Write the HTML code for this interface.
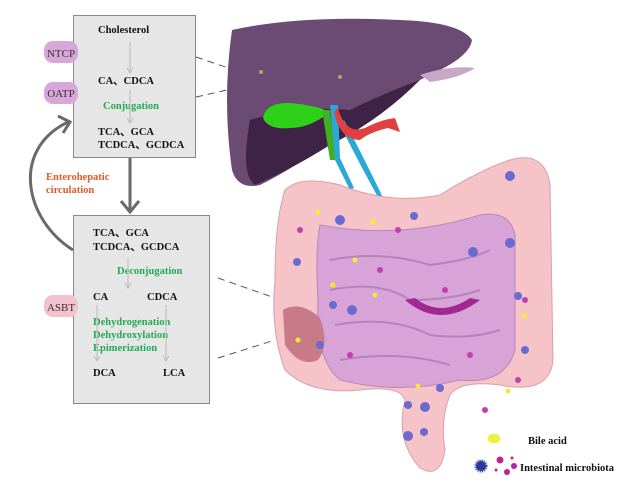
<!DOCTYPE html>
<html><head><style>
body{margin:0;background:#fff;width:621px;height:491px;overflow:hidden;font-family:"Liberation Serif",serif;}
</style></head><body>
<svg width="621" height="491" viewBox="0 0 621 491" xmlns="http://www.w3.org/2000/svg" font-family="Liberation Serif, serif" font-weight="bold">
<!-- boxes -->
<rect x="73.5" y="15.5" width="122" height="142" fill="#e6e6e6" stroke="#888"/>
<rect x="73.5" y="215.5" width="136" height="188" fill="#e6e6e6" stroke="#888"/>
<!-- pills -->
<rect x="44" y="41" width="34" height="22" rx="9" fill="#d9a6d9"/>
<text x="61" y="57" font-size="11" font-weight="normal" fill="#333" text-anchor="middle">NTCP</text>
<rect x="44" y="82" width="34" height="22" rx="9" fill="#d9a6d9"/>
<text x="61" y="97" font-size="11" font-weight="normal" fill="#333" text-anchor="middle">OATP</text>
<rect x="44" y="295" width="34" height="22" rx="9" fill="#f3c2cf"/>
<text x="61" y="311" font-size="11" font-weight="normal" fill="#333" text-anchor="middle">ASBT</text>
<!-- box1 text -->
<g font-size="10.5" fill="#111">
<text x="98" y="33">Cholesterol</text>
<text x="98" y="84">CA、CDCA</text>
<text x="98" y="135">TCA、GCA</text>
<text x="98" y="148">TCDCA、GCDCA</text>
<text x="93" y="236">TCA、GCA</text>
<text x="93" y="250">TCDCA、GCDCA</text>
<text x="93" y="300">CA</text>
<text x="147" y="300">CDCA</text>
<text x="93" y="376">DCA</text>
<text x="163" y="376">LCA</text>
</g>
<g font-size="10.5" fill="#22aa55">
<text x="103" y="109">Conjugation</text>
<text x="117" y="274">Deconjugation</text>
<text x="93" y="325">Dehydrogenation</text>
<text x="93" y="338">Dehydroxylation</text>
<text x="93" y="351">Epimerization</text>
</g>
<g font-size="10.5" fill="#e05a2a">
<text x="46" y="180">Enterohepatic</text>
<text x="46" y="193">circulation</text>
</g>
<!-- thin arrows -->
<g stroke="#bbb" stroke-width="1" fill="none">
<line x1="130" y1="42" x2="130" y2="72"/><path d="M127 68 L130 73 L133 68"/>
<line x1="130" y1="90" x2="130" y2="122"/><path d="M127 118 L130 123 L133 118"/>
<line x1="128" y1="258" x2="128" y2="287"/><path d="M125 283 L128 288 L131 283"/>
<line x1="97" y1="305" x2="97" y2="360"/><path d="M94 356 L97 361 L100 356"/>
<line x1="166" y1="305" x2="166" y2="360"/><path d="M163 356 L166 361 L169 356"/>
</g>
<!-- thick arrows -->
<g stroke="#6a6a6a" stroke-width="3" fill="none">
<line x1="130" y1="158" x2="130" y2="210"/><path d="M121 201 L130 212 L139 201"/>
<path d="M73 250 C25 220 10 150 68 122"/><path d="M58 116 L70 122 L63 133"/>
</g>
<!-- dashed lines -->
<g stroke="#555" stroke-dasharray="7,5" fill="none">
<line x1="196" y1="57" x2="258" y2="78"/>
<line x1="196" y1="97" x2="258" y2="83"/>
<line x1="218" y1="278" x2="275" y2="298"/>
<line x1="218" y1="358" x2="275" y2="340"/>
</g>
<!-- liver -->
<path d="M232 30 Q300 15 400 20 Q460 22 472 40 Q470 55 440 70 L420 80 Q380 110 330 140 Q300 165 260 185 Q238 190 232 170 Q222 100 232 30Z" fill="#6b4a73"/>
<path d="M250 120 Q300 105 350 110 Q380 95 420 80 Q380 120 330 145 Q290 170 255 185 Q240 175 250 120Z" fill="#3f2346"/>
<path d="M420 75 Q450 65 475 68 Q460 78 430 82Z" fill="#c9a7c9"/>
<circle cx="261" cy="72" r="2" fill="#b8a060"/><circle cx="340" cy="77" r="2" fill="#b8a060"/>
<!-- gallbladder -->
<path d="M263 118 Q266 102 290 103 Q315 105 330 112 Q310 128 290 128 Q268 130 263 118Z" fill="#2ed01a"/>
<path d="M322 110 L330 160 L336 160 L330 110Z" fill="#40b020"/>
<path d="M330 105 L335 160 L350 190 L354 188 L340 158 L338 105Z" fill="#2aa8d8"/>
<path d="M340 125 Q360 165 385 210 L388 208 Q365 160 344 120Z" fill="#2aa8d8"/>
<path d="M338 108 Q345 135 365 128 Q380 120 395 118 L400 132 L388 128 Q370 132 360 140 Q340 140 334 112Z" fill="#e04040"/>
<!-- intestine colon -->
<path d="M285 190 Q300 175 340 185 Q390 205 440 195 Q480 170 510 160 Q545 150 550 185 L553 360 Q550 395 500 385 Q460 380 450 395 Q440 420 445 450 Q440 480 420 468 Q395 440 405 400 Q400 385 360 390 Q310 395 285 370 Q270 330 275 280 Q275 220 285 190Z" fill="#f6c4c8" stroke="#d8a0a8"/>
<path d="M320 225 Q400 240 480 215 Q510 210 515 235 L515 350 Q505 385 460 380 Q400 395 340 380 Q315 360 318 300 Q315 250 320 225Z" fill="#d8a4d8" stroke="#b888b8"/>
<g fill="none" stroke="#b483b8" stroke-width="2">
<path d="M330 260 Q380 250 430 265 Q470 260 490 250"/>
<path d="M330 290 Q380 280 410 300 Q450 300 480 290"/>
<path d="M335 325 Q390 315 430 335 Q470 340 500 330"/>
<path d="M340 360 Q400 350 450 365"/>
</g>
<path d="M405 300 Q440 330 480 300 L470 298 Q440 318 415 298Z" fill="#a02890"/>
<path d="M283 310 Q300 300 320 318 Q330 345 318 360 Q300 368 285 345Z" fill="#c97a88"/>
<g fill="#c040b0">
<circle cx="300" cy="230" r="3"/><circle cx="380" cy="270" r="3"/><circle cx="445" cy="290" r="3"/><circle cx="470" cy="355" r="3"/><circle cx="485" cy="410" r="3"/><circle cx="518" cy="380" r="3"/><circle cx="350" cy="355" r="3"/><circle cx="398" cy="230" r="3"/><circle cx="525" cy="300" r="3"/>
</g>
<g fill="#eeee30">
<circle cx="318" cy="212" r="2.5"/><circle cx="373" cy="222" r="2.5"/><circle cx="355" cy="260" r="2.5"/><circle cx="333" cy="285" r="2.5"/><circle cx="375" cy="295" r="2.5"/><circle cx="298" cy="340" r="2.5"/><circle cx="524" cy="316" r="2.5"/><circle cx="418" cy="386" r="2.5"/><circle cx="508" cy="391" r="2.5"/>
</g>
<g fill="#6a6ad0">
<circle cx="340" cy="220" r="5"/><circle cx="414" cy="216" r="4"/><circle cx="510" cy="176" r="5"/><circle cx="297" cy="262" r="4"/><circle cx="510" cy="243" r="5"/><circle cx="473" cy="252" r="5"/><circle cx="333" cy="305" r="4"/><circle cx="352" cy="310" r="5"/><circle cx="320" cy="345" r="4"/><circle cx="518" cy="296" r="4"/><circle cx="525" cy="350" r="4"/><circle cx="440" cy="388" r="4"/><circle cx="408" cy="405" r="4"/><circle cx="425" cy="407" r="5"/><circle cx="408" cy="436" r="5"/><circle cx="424" cy="432" r="4"/>
</g>
<!-- legend -->
<rect x="488" y="434" width="12" height="9" rx="4" fill="#eef23a"/>
<text x="528" y="444" font-size="10.5" fill="#111">Bile acid</text>
<circle cx="481" cy="466" r="5" fill="#2a3a9a" stroke="#2a3a9a" stroke-dasharray="1,1" stroke-width="3"/>
<g fill="#c0209a"><circle cx="500" cy="460" r="3.5"/><circle cx="507" cy="472" r="3"/><circle cx="514" cy="466" r="3"/><circle cx="512" cy="458" r="1.5"/><circle cx="496" cy="470" r="1.5"/></g>
<text x="520" y="471" font-size="10.5" fill="#111">Intestinal microbiota</text>
</svg>
</body></html>
